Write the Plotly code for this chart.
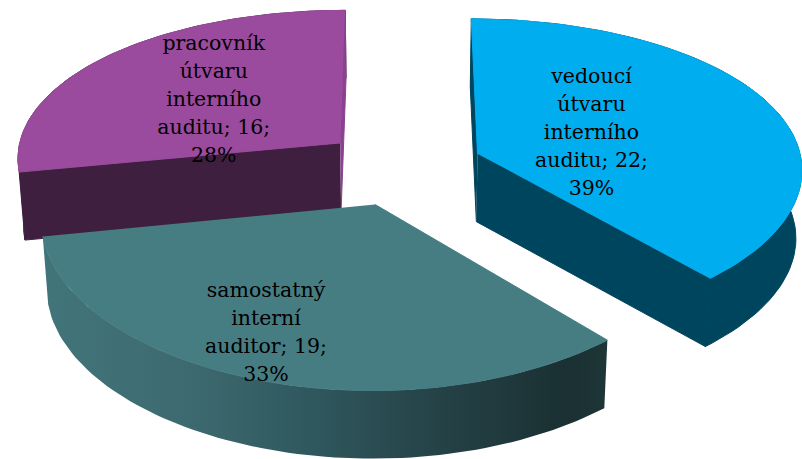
import numpy as np
import plotly.graph_objects as go

# slices, going clockwise from the top
categories = ["vedoucí<br>útvaru<br>interního<br>auditu",
              "samostatný<br>interní<br>auditor",
              "pracovník<br>útvaru<br>interního<br>auditu"]
values = [22, 19, 16]

top_colors = ["#00aeef", "#467d83", "#9b4b9e"]
side_colors = ["#00455e", "#41757a", "#3f1f3f"]
# the cut faces; teal's are hidden behind its own top
start_face = ["#00455e", None, "#8a4290"]
end_face = ["#00455e", None, "#3f1f3f"]
# teal rim is shaded left to right
teal_rim = [[0, "#41757a"], [0.25, "#3d6a70"], [0.45, "#305a60"],
            [0.7, "#254247"], [0.93, "#1a3032"], [1, "#1e3638"]]

# label placement inside each slice
label_r = [0.385, 0.785, 0.505]
label_frac = [0.50, 0.53, 0.463]
line_gap = 28

# projection settings, in page pixels
cx, cy = 402, 167
rx, ry = 325, 154
persp_x = 0.09
persp_y = 0.12
explode = 0.25
depth = 68
shrink = 0.985


def project(X, Y):
    return cx + rx * X / (1 - persp_x * Y), cy + ry * Y / (1 - persp_y * Y)


def lower(x, y):
    return cx + (x - cx) * shrink, y + depth


total = sum(values)
ends = np.cumsum(values) / total * 2 * np.pi
starts = np.concatenate([[0], ends[:-1]])

fig = go.Figure()


def poly(x, y, color=None, gradient=None):
    tr = go.Scatter(x=x, y=y, mode="lines", fill="toself",
                    line=dict(width=1, color=color or "rgba(0,0,0,0)"),
                    hoverinfo="skip", showlegend=False)
    if gradient:
        tr.fillgradient = dict(type="horizontal", colorscale=gradient)
    else:
        tr.fillcolor = color
    fig.add_trace(tr)


tops = []
labels_x, labels_y, labels = [], [], []
for i in range(3):
    mid = (starts[i] + ends[i]) / 2
    ox, oy = explode * np.sin(mid), -explode * np.cos(mid)
    th = np.linspace(starts[i], ends[i], 80)
    ax, ay = project(ox, oy)
    ex, ey = project(ox + np.sin(th), oy - np.cos(th))
    tops.append((ax, ay, ex, ey))

    la = starts[i] + label_frac[i] * (ends[i] - starts[i])
    lx, ly = project(ox + label_r[i] * np.sin(la), oy - label_r[i] * np.cos(la))
    rows = f"{categories[i]}; {values[i]};<br>{round(values[i] / total * 100)}%".split("<br>")
    # each row on its own so the row spacing can follow the original
    for k, row in enumerate(rows):
        labels_x.append(lx)
        labels_y.append(ly + (k - (len(rows) - 1) / 2) * line_gap)
        labels.append(row)

# back to front: purple, blue, teal
for i in [2, 0, 1]:
    ax, ay, ex, ey = tops[i]
    bax, bay = lower(ax, ay)
    bx, by = lower(ex, ey)
    # outer rim
    rim_x = np.concatenate([ex, bx[::-1]])
    rim_y = np.concatenate([ey, by[::-1]])
    if i == 1:
        poly(rim_x, rim_y, gradient=teal_rim)
    else:
        poly(rim_x, rim_y, side_colors[i])
    # the two cut faces
    if end_face[i]:
        poly([ax, ex[0], bx[0], bax], [ay, ey[0], by[0], bay], end_face[i])
        poly([ax, ex[-1], bx[-1], bax], [ay, ey[-1], by[-1], bay], start_face[i])
    # top face
    poly(np.concatenate([[ax], ex]), np.concatenate([[ay], ey]), top_colors[i])

fig.add_trace(go.Scatter(x=labels_x, y=labels_y, mode="text", text=labels,
                         textposition="middle center",
                         textfont=dict(family="DejaVu Serif", size=20.5, color="#000000"),
                         hoverinfo="skip", showlegend=False))

fig.update_xaxes(range=[0, 802], visible=False)
fig.update_yaxes(range=[459, 0], visible=False)
fig.update_layout(width=802, height=459, margin=dict(l=0, r=0, t=0, b=0),
                  paper_bgcolor="white", plot_bgcolor="white")

fig.write_html("out.html", config=dict(displayModeBar=False),
               post_script="document.body.style.margin = '0';")
